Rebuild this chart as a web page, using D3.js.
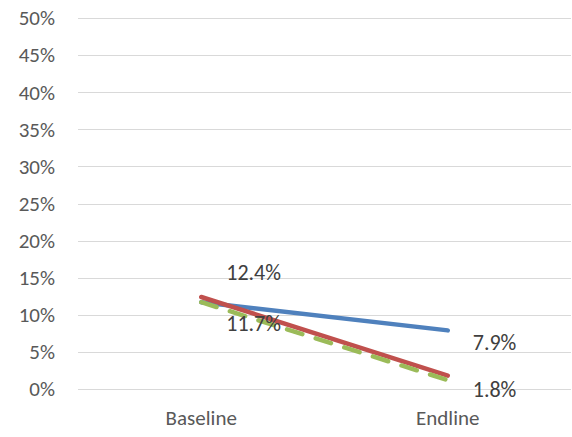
<!DOCTYPE html>
<html><head><meta charset="utf-8">
<script src="https://cdn.jsdelivr.net/npm/d3@7"></script>
<style>body{margin:0;background:#fff}svg{display:block}</style>
</head><body><svg id="c" width="572" height="437"></svg>
<script>
const categories = ["Baseline", "Endline"];
const yTicks = [0, 0.05, 0.10, 0.15, 0.20, 0.25, 0.30, 0.35, 0.40, 0.45, 0.50];
const seriesBlue = [0.117, 0.079];
const seriesRed = [0.124, 0.018];
const seriesGreen = [0.117, 0.012];
const labelsBlue = ["11.7%", "7.9%"];
const labelsRed = ["12.4%", "1.8%"];

const svg = d3.select("#c");
const font = "Calibri, Carlito, Lato, 'Open Sans', sans-serif";
const fs = 21;
const x = d3.scaleBand().domain(categories).range([78, 571]);
const y = d3.scaleLinear().domain([0, 0.5]).range([389, 18]);

svg.append("g").selectAll("line").data(yTicks).join("line")
  .attr("x1", 78).attr("x2", 571)
  .attr("y1", d => Math.round(y(d)) + 0.5).attr("y2", d => Math.round(y(d)) + 0.5)
  .attr("stroke", "#d9d9d9").attr("stroke-width", 1);

svg.append("g").selectAll("text").data(yTicks).join("text")
  .attr("x", 55).attr("y", d => y(d)).attr("dy", "0.35em")
  .attr("text-anchor", "end").attr("font-family", font).attr("font-size", fs)
  .attr("fill", "#595959").text(d => d3.format(".0%")(d));

svg.append("g").selectAll("text").data(categories).join("text")
  .attr("x", d => x(d) + x.bandwidth() / 2).attr("y", 418).attr("dy", "0.35em")
  .attr("text-anchor", "middle").attr("font-family", font).attr("font-size", fs)
  .attr("fill", "#595959").text(d => d);

const line = d3.line().x((d, i) => x(categories[i]) + x.bandwidth() / 2).y(d => y(d));

svg.append("path").datum(seriesBlue).attr("d", line).attr("fill", "none")
  .attr("stroke", "#4f81bd").attr("stroke-width", 4.5).attr("stroke-linecap", "round");
svg.append("path").datum(seriesRed).attr("d", line).attr("fill", "none")
  .attr("stroke", "#c0504d").attr("stroke-width", 4.5).attr("stroke-linecap", "round");
svg.append("path").datum(seriesGreen).attr("d", line).attr("fill", "none")
  .attr("stroke", "#9bbb59").attr("stroke-width", 4.5).attr("stroke-linecap", "round")
  .attr("stroke-dasharray", "16,14");

const cx = i => x(categories[i]) + x.bandwidth() / 2;
const lab = svg.append("g").attr("font-family", font).attr("font-size", 22).attr("fill", "#404040");
const offs = {red: [-25, 14], blue: [21, 12]};
seriesRed.forEach((v, i) => {
  lab.append("text").attr("x", cx(i) + 25).attr("y", y(v) + offs.red[i]).attr("dy", "0.35em").text(labelsRed[i]);
});
seriesBlue.forEach((v, i) => {
  lab.append("text").attr("x", cx(i) + 25).attr("y", y(v) + offs.blue[i]).attr("dy", "0.35em").text(labelsBlue[i]);
});
</script></body></html>
